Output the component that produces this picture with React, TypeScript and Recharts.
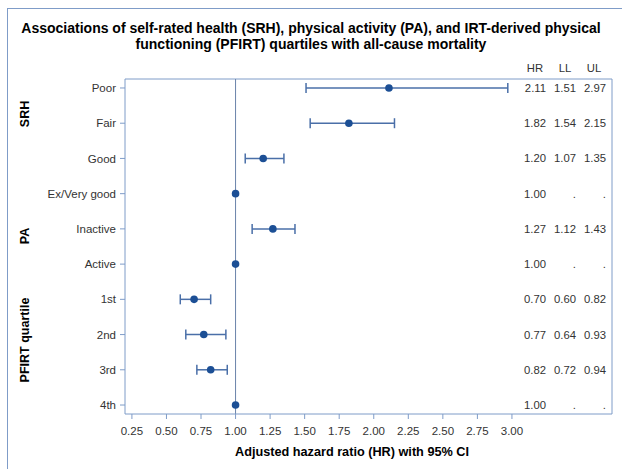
import React from 'react';
import { ScatterChart, Scatter, XAxis, YAxis, ErrorBar, ReferenceLine } from 'recharts';

const categories = ['Poor', 'Fair', 'Good', 'Ex/Very good', 'Inactive', 'Active', '1st', '2nd', '3rd', '4th'];
const hr = [2.11, 1.82, 1.20, 1.00, 1.27, 1.00, 0.70, 0.77, 0.82, 1.00];
const ll: (number | null)[] = [1.51, 1.54, 1.07, null, 1.12, null, 0.60, 0.64, 0.72, null];
const ul: (number | null)[] = [2.97, 2.15, 1.35, null, 1.43, null, 0.82, 0.93, 0.94, null];
const xTicks = [0.25, 0.5, 0.75, 1.0, 1.25, 1.5, 1.75, 2.0, 2.25, 2.5, 2.75, 3.0];
const groups = [
  { label: 'SRH', y: 114 },
  { label: 'PA', y: 236 },
  { label: 'PFIRT quartile', y: 340 },
];

const X_MIN = 0.2;
const X_MAX = 3.724;
const Y_MIN = -0.255;
const Y_MAX = 9.255;

const FRAME = '#7f9cc8';
const DOT = '#1c4f95';
const BAR = '#4a6fa8';
const TEXT = '#333';
const FONT = '"Liberation Sans", Arial, sans-serif';

const withCI = hr
  .map((v, i) => ({ x: v, y: i, errX: ll[i] != null ? [v - (ll[i] as number), (ul[i] as number) - v] : null }))
  .filter(d => d.errX != null);
const refOnly = hr.map((v, i) => ({ x: v, y: i })).filter((_, i) => ll[i] == null);
const statsRows = hr.map((v, i) => ({ x: v, y: i, idx: i }));

const Dot = (p: any) => <circle cx={p.cx} cy={p.cy} r={3.8} fill={DOT} />;

// stats columns sit at the right edge of the plot frame; missing values print as "."
const StatsShape = (p: any) => {
  const i = p.payload.idx;
  const cols = [hr[i], ll[i], ul[i]];
  const ends = [546, 576, 606];
  return (
    <g>
      {cols.map((v, k) => (
        <text key={k} x={ends[k]} y={p.cy} dy={4} textAnchor="end" fontSize={11.3} fill={TEXT} fontFamily={FONT}>
          {v == null ? '.' : v.toFixed(2)}
        </text>
      ))}
    </g>
  );
};

const App: React.FC = () => {
  return (
    <div style={{ position: 'absolute', left: 0, top: 0, width: 622, height: 469, background: '#fff', fontFamily: FONT, overflow: 'hidden' }}>
      <div style={{ position: 'absolute', left: 7, top: 8, width: 640, height: 480, borderLeft: `1px solid ${FRAME}`, borderTop: `1px solid ${FRAME}` }} />
      <div style={{ position: 'absolute', left: 0, top: 20, width: 622, textAlign: 'center', fontWeight: 'bold', fontSize: 14, lineHeight: '16px', color: '#000' }}>
        Associations of self-rated health (SRH), physical activity (PA), and IRT-derived physical<br />
        functioning (PFIRT) quartiles with all-cause mortality
      </div>
      {['HR', 'LL', 'UL'].map((h, k) => (
        <div key={h} style={{ position: 'absolute', left: [535, 565, 594][k] - 15, top: 62, width: 30, textAlign: 'center', fontSize: 11.3, color: TEXT }}>
          {h}
        </div>
      ))}
      <ScatterChart width={622} height={469} margin={{ top: 79, right: 10, bottom: 35, left: 0 }} style={{ position: 'absolute', left: 0, top: 0 }}>
        <XAxis
          type="number"
          dataKey="x"
          domain={[X_MIN, X_MAX]}
          ticks={xTicks}
          tickFormatter={(v: number) => v.toFixed(2)}
          allowDataOverflow
          height={20}
          stroke={FRAME}
          tickSize={5}
          tickMargin={8}
          tick={{ fill: TEXT, fontSize: 11.5, fontFamily: FONT }}
        />
        <YAxis
          type="number"
          dataKey="y"
          reversed
          domain={[Y_MIN, Y_MAX]}
          ticks={categories.map((_, i) => i)}
          tickFormatter={(v: number) => categories[v]}
          allowDataOverflow
          width={125}
          stroke={FRAME}
          tickSize={5}
          tickMargin={4}
          tick={{ fill: TEXT, fontSize: 11.5, fontFamily: FONT }}
        />
        <ReferenceLine y={Y_MIN} stroke={FRAME} />
        <ReferenceLine x={X_MAX} stroke={FRAME} />
        <ReferenceLine x={1} stroke="#6a84aa" />
        <Scatter data={withCI} shape={<Dot />} isAnimationActive={false}>
          <ErrorBar dataKey="errX" direction="x" width={5} stroke={BAR} strokeWidth={1.5} />
        </Scatter>
        <Scatter data={refOnly} shape={<Dot />} isAnimationActive={false} />
        <Scatter data={statsRows} shape={<StatsShape />} isAnimationActive={false} />
      </ScatterChart>
      {groups.map(g => (
        <div
          key={g.label}
          style={{ position: 'absolute', left: 25 - 60, top: g.y - 8, width: 120, height: 16, lineHeight: '16px', textAlign: 'center', fontWeight: 'bold', fontSize: 12.5, color: '#000', transform: 'rotate(-90deg)' }}
        >
          {g.label}
        </div>
      ))}
      <div style={{ position: 'absolute', left: 202, top: 445, width: 300, textAlign: 'center', fontWeight: 'bold', fontSize: 12.7, color: '#000' }}>
        Adjusted hazard ratio (HR) with 95% CI
      </div>
    </div>
  );
};

export default App;
